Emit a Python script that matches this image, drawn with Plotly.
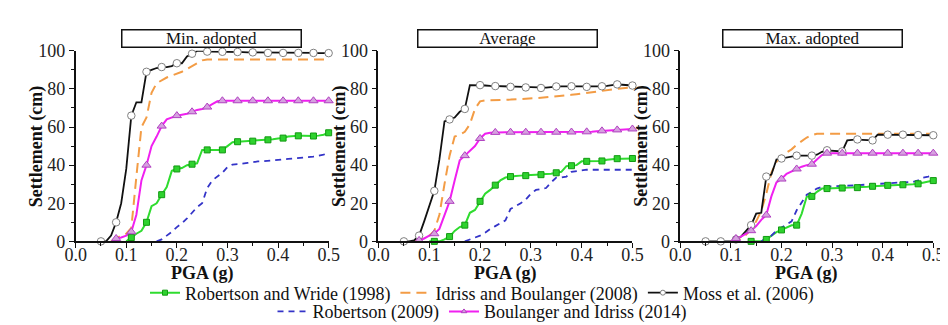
import plotly.graph_objects as go

# ---------------- data ----------------
PGA = [0.05, 0.06, 0.07, 0.08, 0.09, 0.10, 0.11, 0.12, 0.13, 0.14,
       0.15, 0.16, 0.17, 0.18, 0.19, 0.20, 0.21, 0.22, 0.23, 0.24,
       0.25, 0.26, 0.27, 0.28, 0.29, 0.30, 0.31, 0.32, 0.33, 0.34,
       0.35, 0.36, 0.37, 0.38, 0.39, 0.40, 0.41, 0.42, 0.43, 0.44,
       0.45, 0.46, 0.47, 0.48, 0.49, 0.50]

N = None
PANELS = ["Min. adopted", "Average", "Max. adopted"]
SERIES = ["Robertson and Wride (1998)", "Idriss and Boulanger (2008)",
          "Moss et al. (2006)", "Robertson (2009)", "Boulanger and Idriss (2014)"]

# ---- Min. adopted ----
rw_min = [N, N, N, N, N, 0, 2, 4, 5.5, 10,
          18.5, 20, 24.5, 28.5, 37, 38, 38.5, 40, 40.5, 41,
          48, 48, 48, 48, 48, 50, 52, 52.3, 52.5, 52.5,
          52.6, 53, 53.2, 53.3, 53.6, 54, 54.2, 55, 55.3, 55.4,
          55.4, 55.3, 55.3, 55.5, 56, 57]
ib_min = [N, N, 0, 1.5, 3, 4, 7, 34, 60, 65,
          78, 83, 84.5, 86, 87, 88, 89, 90.5, 92, 93.5,
          95, 95.5, 95.5, 95.5, 95.5, 95.5, 95.5, 95.5, 95.5, 95.5,
          95.5, 95.5, 95.5, 95.5, 95.5, 95.5, 95.5, 95.5, 95.5, 95.5,
          95.5, 95.5, 95.5, 95.5, 95.5, 95.5]
moss_min = [0, 0, 3, 10, 20, 38, 66, 73, 73, 89,
            90, 91, 91.5, 91.5, 92, 93.5, 93.5, 97, 98.5, 100,
            100, 99.6, 99.6, 99.6, 99.5, 99.5, 99.5, 99.4, 99.3, 99.2,
            99.2, 99.1, 99.0, 98.9, 98.9, 98.9, 98.9, 98.9, 98.9, 98.9,
            98.9, 98.9, 98.9, 98.8, 98.8, 98.8]
rob_min = [N, N, N, N, N, N, N, N, N, N,
           N, 0, 1, 3, 5, 7.5, 9.5, 12, 15, 18,
           20, 28, 32, 34, 36, 39, 40.3, 40.5, 41, 41.2,
           41.5, 42, 42, 42.3, 42.5, 43, 43, 43.3, 43.5, 43.7,
           44, 44.2, 44.5, 45, 45.5, 46.5]
bi_min = [N, N, N, 1.5, 2, 3, 5, 14, 32, 40,
          50, 55, 60.5, 64, 65, 66, 66.5, 67, 68, 69,
          69.5, 70.5, 72, 73.5, 73.8, 73.8, 73.8, 73.8, 73.8, 73.8,
          73.8, 73.8, 73.8, 73.8, 73.8, 73.8, 73.8, 73.8, 73.8, 73.8,
          73.8, 73.8, 73.8, 73.8, 73.8, 73.8]

# ---- Average ----
rw_avg = [N, N, N, N, N, 0, 0, 0, 1, 2.5,
          5.5, 7.5, 8.5, 15, 16.5, 21, 25, 27, 29.5, 32,
          33.5, 34, 34.3, 34.5, 34.5, 34.8, 35, 35, 35.3, 35.5,
          36, 36.5, 39.5, 39.7, 40, 42, 42, 42, 42.1, 42.2,
          42.8, 43.3, 43.4, 43.4, 43.4, 43.5]
ib_avg = [N, N, 0, 1, 2, 3, 5.5, 14, 30, 45,
          55, 56, 57.5, 61.5, 69.5, 73.5, 74, 74, 74.1, 74.2,
          74.3, 74.4, 74.5, 74.6, 74.8, 75, 75.2, 75.4, 75.6, 75.8,
          76, 76.3, 76.6, 76.9, 77.2, 77.5, 77.8, 78.1, 78.5, 78.9,
          79.3, 79.7, 80.1, 80.4, 80.6, 80.8]
moss_avg = [0, 0, 0.5, 3, 10.5, 19, 26.5, 43, 63, 64,
            65, 68, 69.5, 82, 82, 82, 81.8, 81.6, 81.5, 81.4,
            81.2, 81.1, 81, 80.9, 80.8, 80.7, 80.6, 80.5, 80.7, 81,
            81.3, 81.4, 81.4, 81.4, 81.3, 81.2, 81.1, 81.2, 81.3, 81.4,
            81.6, 82, 82.4, 82.2, 82, 81.8]
rob_avg = [N, N, N, N, N, N, N, N, N, N,
           N, N, 0, 1, 2, 3, 4.5, 6.5, 8, 9.5,
           11, 17, 18.5, 20, 22, 25, 27, 27.5, 28, 31,
           33.5, 33.5, 34, 36.5, 37, 37.5, 37.6, 37.6, 37.6, 37.6,
           37.6, 37.6, 37.6, 37.6, 37.6, 37.6]
bi_avg = [N, N, N, 0.5, 1.5, 3, 4, 6.5, 14, 21,
          32, 42.5, 45, 47.5, 50, 54, 56.5, 57, 57.2, 57.3,
          57.3, 57.3, 57.3, 57.3, 57.3, 57.3, 57.3, 57.3, 57.3, 57.3,
          57.3, 57.3, 57.3, 57.4, 57.4, 57.5, 57.5, 57.6, 57.8, 58,
          58.1, 58.3, 58.5, 58.6, 58.8, 59]

# ---- Max. adopted ----
rw_max = [N, N, N, N, N, N, N, N, N, 0,
          0, 0, 1, 3, 4.8, 6, 7.2, 8.4, 8.5, 14.6,
          23.6, 23.6, 26, 27.7, 27.7, 27.8, 27.9, 28, 28, 28.1,
          28.2, 28.5, 28.7, 28.9, 29, 29.2, 29.4, 29.5, 29.6, 29.7,
          29.9, 30, 30.2, 30.8, 31.3, 31.9]
ib_max = [N, N, N, N, N, 0, 0.5, 1.5, 3.5, 6.4,
          10.5, 16, 25, 36, 41.7, 45, 46.6, 48.3, 50.7, 52.4,
          54.5, 55.7, 56.5, 56.5, 56.5, 56.5, 56.5, 56.5, 56.5, 56.5,
          56.5, 56.5, 56.5, 56.5, 56.5, 56.5, 56.5, 56.5, 56.5, 56.5,
          56.5, 56.5, 56.5, 56.5, 56.5, 56.5]
moss_max = [0, 0, 0, 0, 0, 0, 1, 2.5, 5.5, 8.5,
            14.6, 15, 34, 35, 43, 43.5, 44, 44.5, 45, 45,
            45, 45, 45.5, 47, 47.8, 47.5, 47.2, 47.2, 53, 53.2,
            53.5, 53.3, 53, 53, 56, 56, 56, 56, 56, 56,
            56, 56, 55.8, 55.8, 55.7, 55.7]
rob_max = [N, N, N, N, N, N, N, N, N, N,
           N, 0, 2, 3, 5.6, 7.2, 8.9, 10.5, 16.3, 20.4,
           24.5, 26, 27.7, 28.6, 28.7, 28.9, 29, 29.1, 29.2, 29.3,
           29.4, 29.6, 29.8, 30, 30.2, 30.5, 30.6, 30.7, 30.8, 30.9,
           31, 31.2, 32, 33.5, 34, 34.8]
bi_max = [N, N, N, N, N, 0, 1.5, 2.5, 4, 5.6,
          8, 11.3, 13.8, 23.6, 31, 32.7, 35.5, 36.8, 38, 39.2,
          40, 40.5, 43, 45.3, 46.3, 46.3, 46.3, 46.3, 46.3, 46.3,
          46.3, 46.3, 46.3, 46.3, 46.3, 46.3, 46.3, 46.3, 46.3, 46.3,
          46.3, 46.3, 46.3, 46.3, 46.3, 46.3]

PANEL_DATA = [
    [rw_min, ib_min, moss_min, rob_min, bi_min],
    [rw_avg, ib_avg, moss_avg, rob_avg, bi_avg],
    [rw_max, ib_max, moss_max, rob_max, bi_max],
]

X_TICKS = [0.0, 0.1, 0.2, 0.3, 0.4, 0.5]
Y_TICKS = [0, 20, 40, 60, 80, 100]

# ---------------- styles ----------------
FONT = "Liberation Serif"
W, H = 948, 325
STYLES = [
    dict(line=dict(color="#2fdc2f", width=2), marker=dict(symbol="square", size=6, color="#2ed22e", line=dict(color="#129a12", width=1)), markers=True),
    dict(line=dict(color="#f39c45", width=2, dash="10px,6px"), marker=None, markers=False),
    dict(line=dict(color="#111111", width=1.8), marker=dict(symbol="circle", size=7.5, color="white", line=dict(color="#808080", width=1)), markers=True),
    dict(line=dict(color="#3434c8", width=1.8, dash="6px,5px"), marker=None, markers=False),
    dict(line=dict(color="#f020f0", width=2), marker=dict(symbol="triangle-up", size=8, color="#d6a0df", line=dict(color="#b040c0", width=1)), markers=True),
]
LEGEND_OF = ["legend", "legend", "legend", "legend2", "legend2"]

# plot area pixel geometry
X_PIX = [(58, 317), (368, 628), (677, 936)]
Y_PIX = (35, 238)  # top(100), bottom(0)
BOX_CX = [197, 500, 812]

fig = go.Figure()

for p, series_list in enumerate(PANEL_DATA):
    xa = "x" if p == 0 else f"x{p+1}"
    ya = "y" if p == 0 else f"y{p+1}"
    for s, ys in enumerate(series_list):
        st = STYLES[s]
        xs = [x for x, y in zip(PGA, ys) if y is not None]
        yv = [y for y in ys if y is not None]
        fig.add_trace(go.Scatter(x=xs, y=yv, mode="lines", line=st["line"],
                                 xaxis=xa, yaxis=ya, showlegend=False,
                                 cliponaxis=False, hoverinfo="skip"))
    for s, ys in enumerate(series_list):
        st = STYLES[s]
        if not st["markers"]:
            continue
        mx = [x for i, (x, y) in enumerate(zip(PGA, ys)) if i % 3 == 0 and y is not None]
        my = [y for i, y in enumerate(ys) if i % 3 == 0 and y is not None]
        fig.add_trace(go.Scatter(x=mx, y=my, mode="markers", marker=st["marker"],
                                 xaxis=xa, yaxis=ya, showlegend=False,
                                 cliponaxis=False, hoverinfo="skip"))

for s, name in enumerate(SERIES):
    st = STYLES[s]
    mk = None
    mode = "lines"
    if st["markers"]:
        mode = "lines+markers"
        mk = dict(st["marker"])
        mk["size"] = 5
    fig.add_trace(go.Scatter(x=[None], y=[None], mode=mode, name=name,
                             line=st["line"], marker=mk, legend=LEGEND_OF[s],
                             showlegend=True, xaxis="x", yaxis="y"))

layout = dict(
    width=W, height=H,
    margin=dict(l=0, r=0, t=0, b=0),
    paper_bgcolor="white", plot_bgcolor="white",
    font=dict(family=FONT, size=17, color="#111111"),
    showlegend=True,
    legend=dict(orientation="h", x=0.5, xanchor="center", y=1 - 293 / H, yanchor="middle",
                font=dict(family=FONT, size=18, color="#111111"), bgcolor="rgba(0,0,0,0)",
                itemwidth=30, tracegroupgap=0),
    legend2=dict(orientation="h", x=0.5, xanchor="center", y=1 - 313 / H, yanchor="middle",
                 font=dict(family=FONT, size=18, color="#111111"), bgcolor="rgba(0,0,0,0)",
                 itemwidth=30, tracegroupgap=0),
)

annotations = []
for p in range(3):
    xk = "xaxis" if p == 0 else f"xaxis{p+1}"
    yk = "yaxis" if p == 0 else f"yaxis{p+1}"
    x0, x1 = X_PIX[p]
    layout[xk] = dict(
        domain=[x0 / W, x1 / W], range=[0, 0.5], anchor="y" if p == 0 else f"y{p+1}",
        tickvals=X_TICKS, ticktext=[f"{v:.1f}" for v in X_TICKS],
        ticks="outside", ticklen=5, tickwidth=1.3, tickcolor="#111111",
        showline=True, linecolor="#111111", linewidth=1.5, showgrid=False, zeroline=False,
        tickfont=dict(family=FONT, size=18, color="#222222"),
        ticklabelstandoff=-9,
        minor=dict(dtick=0.05, tick0=0, ticks="outside", ticklen=3, tickcolor="#111111", tickwidth=1.2, showgrid=False),
        fixedrange=True,
    )
    layout[yk] = dict(
        domain=[1 - Y_PIX[1] / H, 1 - Y_PIX[0] / H], range=[0, 100],
        anchor="x" if p == 0 else f"x{p+1}",
        tickvals=Y_TICKS, ticks="outside", ticklen=5, tickwidth=1.3, tickcolor="#111111",
        showline=True, linecolor="#111111", linewidth=1.5, showgrid=False, zeroline=False,
        tickfont=dict(family=FONT, size=18, color="#222222"),
        minor=dict(dtick=10, tick0=0, ticks="outside", ticklen=3, tickcolor="#111111", tickwidth=1.2, showgrid=False),
        fixedrange=True,
    )
    annotations.append(dict(
        text=PANELS[p], xref="paper", yref="paper", x=BOX_CX[p] / W, y=1 - 22 / H,
        xanchor="center", yanchor="middle", showarrow=False,
        font=dict(family=FONT, size=17, color="#111111"),
        bordercolor="#111111", borderwidth=1.5, borderpad=0, bgcolor="white",
        width=178, height=16,
    ))
    annotations.append(dict(
        text="<b>PGA (g)</b>", xref="paper", yref="paper", x=(x0 + x1) / 2 / W, y=1 - 272 / H,
        xanchor="center", yanchor="middle", showarrow=False,
        font=dict(family=FONT, size=18, color="#111111"),
    ))
    annotations.append(dict(
        text="<b>Settlement (cm)</b>", xref="paper", yref="paper", x=(x0 - 40) / W, y=1 - 137 / H,
        xanchor="center", yanchor="middle", showarrow=False, textangle=-90,
        font=dict(family=FONT, size=18, color="#111111"),
    ))

layout["annotations"] = annotations
fig.update_layout(**layout)

fig.write_html("out.html")
